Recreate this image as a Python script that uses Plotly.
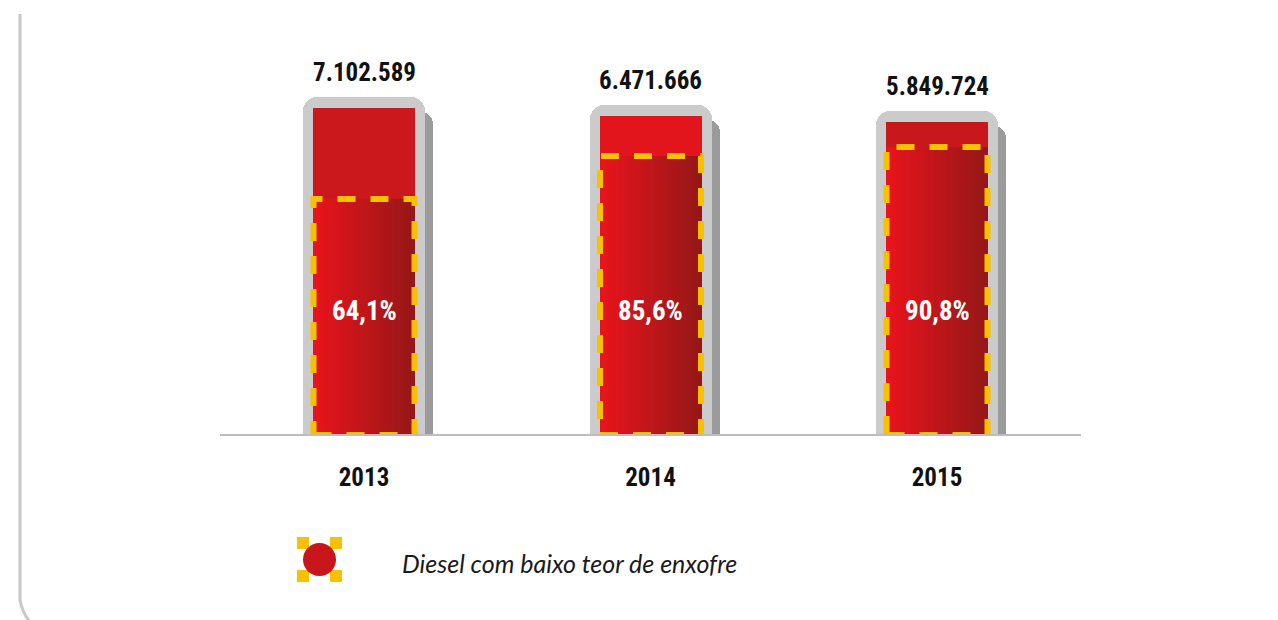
import plotly.graph_objects as go

# ---- data ----
years = ["2013", "2014", "2015"]
total_labels = ["7.102.589", "6.471.666", "5.849.724"]
low_sulfur_pct = ["64,1%", "85,6%", "90,8%"]
# bar heights as drawn in the picture (display units, not to scale with totals)
total_height = [326, 318, 312]
low_sulfur_height = [235, 278, 287]
legend_label = "Diesel com baixo teor de enxofre"

# ---- style ----
OFF = 8  # page body margin
W, H = 1278, 620
ML = 220 - OFF
PW = 861
MR = W - ML - PW
MB = H - (434 - OFF)
MT = 0
PH = H - MT - MB
XR = [-0.5026, 2.5026]
unit_px = PW / (XR[1] - XR[0])
inner_colors = ["#cb181c", "#e2141c", "#c9181c"]
BOLD = "Liberation Sans Narrow, Roboto Condensed, Roboto, Arial"
xs = list(range(len(years)))

gray_w = 122 / unit_px
inner_w = 102 / unit_px
dash_w = 101 / unit_px
shadow_dx = 8 / unit_px


def px2paper(px, py):
    """page pixel -> paper coords"""
    return (px - OFF - ML) / PW, (H - MB - (py - OFF)) / PH


fig = go.Figure()

# shadow
fig.add_trace(go.Bar(x=xs, y=[h - 4 for h in total_height], width=gray_w,
                     offset=-gray_w / 2 + shadow_dx, marker=dict(color="#9b9b9b", cornerradius=12, line_width=0),
                     hoverinfo="skip", showlegend=False))
# gray frame
fig.add_trace(go.Bar(x=xs, y=[h + 11 for h in total_height], width=gray_w,
                     marker=dict(color="#cbcbcb", cornerradius=14, line_width=0),
                     hoverinfo="skip", showlegend=False))
# total diesel (red)
fig.add_trace(go.Bar(x=xs, y=total_height, width=inner_w,
                     marker=dict(color=inner_colors, cornerradius=6, line_width=0),
                     hoverinfo="skip", showlegend=False))

# low sulfur: horizontal gradient made of thin stripes
N = 34
c0 = (232, 20, 28)
c1 = (150, 23, 23)
sw = inner_w / N
for k in range(N):
    t = k / (N - 1)
    col = "rgb(%d,%d,%d)" % tuple(round(a + (b - a) * t) for a, b in zip(c0, c1))
    fig.add_trace(go.Bar(x=xs, y=low_sulfur_height, width=sw * 1.6,
                         offset=-inner_w / 2 + k * sw - (0.6 * sw if k == N - 1 else 0),
                         marker=dict(color=col, line_width=0),
                         hoverinfo="skip", showlegend=False))

shapes = []
for i, h in zip(xs, low_sulfur_height):
    shapes.append(dict(type="rect", xref="x", yref="y", x0=i - dash_w / 2, x1=i + dash_w / 2,
                       y0=-1, y1=h, line=dict(color="#f8c100", width=6, dash="18px,15px"),
                       fillcolor="rgba(0,0,0,0)", layer="above"))

annotations = []
for i, h, lab, pct in zip(xs, total_height, total_labels, low_sulfur_pct):
    annotations.append(dict(x=i, y=h + 11, xref="x", yref="y", text="<b>%s</b>" % lab, showarrow=False,
                            yanchor="middle", yshift=25, font=dict(family=BOLD, size=25, color="#111")))
    annotations.append(dict(x=i, y=123, xref="x", yref="y", text="<b>%s</b>" % pct, showarrow=False,
                            yanchor="middle", font=dict(family=BOLD, size=27, color="#ffffff")))

# legend icon
for (ax, ay) in [(297, 537), (330, 537), (297, 570), (330, 570)]:
    x0, y0 = px2paper(ax, ay + 12)
    x1, y1 = px2paper(ax + 12, ay)
    shapes.append(dict(type="rect", xref="paper", yref="paper", x0=x0, x1=x1, y0=y0, y1=y1,
                       fillcolor="#f8c100", line_width=0, layer="above"))
cx0, cy0 = px2paper(303, 576)
cx1, cy1 = px2paper(336, 543)
shapes.append(dict(type="circle", xref="paper", yref="paper", x0=cx0, x1=cx1, y0=cy0, y1=cy1,
                   fillcolor="#c8161b", line_width=0, layer="above"))
lx, ly = px2paper(400, 563)
annotations.append(dict(x=lx, y=ly, xref="paper", yref="paper", text=legend_label, showarrow=False,
                        xanchor="left", yanchor="middle",
                        font=dict(family="Lato, Open Sans, sans-serif", size=25, color="#1a1a1a",
                                  style="italic")))

# left border with rounded bottom corner
p = [px2paper(20, 14), px2paper(20, 600), px2paper(22, 612), px2paper(30, 622)]
path = "M %f,%f L %f,%f Q %f,%f %f,%f" % (p[0][0], p[0][1], p[1][0], p[1][1], p[2][0], p[2][1], p[3][0], p[3][1])
shapes.append(dict(type="path", xref="paper", yref="paper", path=path,
                   line=dict(color="#c8c8c8", width=3), layer="below"))

fig.update_layout(
    width=W, height=H, autosize=False,
    margin=dict(l=ML, r=MR, t=MT, b=MB, pad=0),
    paper_bgcolor="#ffffff", plot_bgcolor="#ffffff",
    barmode="overlay", bargap=0,
    shapes=shapes, annotations=annotations,
    xaxis=dict(range=XR, tickvals=xs, ticktext=["<b>%s</b>" % y for y in years],
               showline=True, linecolor="#bdbdbd", linewidth=2, showgrid=False, zeroline=False,
               ticks="", ticklabelstandoff=20, tickfont=dict(family=BOLD, size=25, color="#111"),
               fixedrange=True),
    yaxis=dict(range=[0, PH], visible=False, showgrid=False, zeroline=False, fixedrange=True),
    showlegend=False,
)

fig.write_html("out.html")
